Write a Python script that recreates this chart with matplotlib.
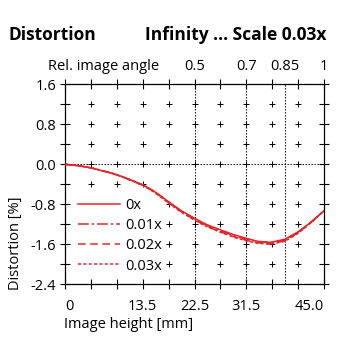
import numpy as np
import matplotlib
matplotlib.use("Agg")
import matplotlib.pyplot as plt
import matplotlib.transforms as mtransforms

plt.rcParams['font.family'] = ['Open Sans', 'DejaVu Sans']

# Data
image_height = [0, 2.5, 4.7, 6.5, 8.2, 10, 11.6, 13.5, 15.1, 16.5, 18, 20.1, 22.5,
                24.7, 27, 29.4, 31.5, 33.5, 35.7, 38.2, 40.5, 42.6, 45]
dist_0x   = [0, -0.03, -0.075, -0.13, -0.18, -0.25, -0.32, -0.41, -0.51, -0.62, -0.75, -0.92, -1.08,
             -1.21, -1.31, -1.41, -1.48, -1.54, -1.56, -1.50, -1.35, -1.17, -0.93]
dist_001x = [0, -0.03, -0.075, -0.13, -0.18, -0.25, -0.32, -0.41, -0.52, -0.63, -0.76, -0.93, -1.09,
             -1.22, -1.33, -1.43, -1.50, -1.55, -1.57, -1.51, -1.36, -1.17, -0.93]
dist_002x = [0, -0.03, -0.075, -0.13, -0.18, -0.25, -0.33, -0.42, -0.52, -0.63, -0.77, -0.94, -1.11,
             -1.24, -1.35, -1.45, -1.52, -1.57, -1.59, -1.53, -1.37, -1.18, -0.93]
dist_003x = [0, -0.03, -0.075, -0.13, -0.18, -0.25, -0.33, -0.42, -0.53, -0.64, -0.78, -0.95, -1.12,
             -1.25, -1.36, -1.46, -1.53, -1.58, -1.60, -1.54, -1.38, -1.18, -0.93]
series_labels = ['0x', '0.01x', '0.02x', '0.03x']
x_ticklabels = {0: '0', 13.5: '13.5', 22.5: '22.5', 31.5: '31.5', 45: '45.0'}
y_ticklabels = [1.6, 0.8, 0.0, -0.8, -1.6, -2.4]
rel_angle_pos = [22.5, 31.5, 38.25, 45]
rel_angle_labels = ['0.5', '0.7', '0.85', '1']

red = '#e3262d'
fs = 10.5
fig = plt.figure(figsize=(3.4, 3.4), dpi=100)
ax = fig.add_axes([65/340, 1-284.3/340, (324-65)/340, 200/340])

styles = ['-', (0, (7, 2, 1.5, 2)), (0, (5, 3)), (0, (2, 1.5))]
for ys, lab, ls in zip([dist_0x, dist_001x, dist_002x, dist_003x], series_labels, styles):
    ax.plot(image_height, ys, color=red, lw=1.1, ls=ls, label=lab, zorder=3)

ax.set_xlim(0, 45)
ax.set_ylim(-2.4, 1.6)

xt = np.arange(0, 45.01, 4.5)
yt = np.round(np.arange(-2.4, 1.61, 0.4), 2)
ax.set_xticks(xt)
ax.set_xticklabels([x_ticklabels.get(round(v, 2), '') for v in xt])
ax.set_yticks(yt)
def ylab(v):
    for t in y_ticklabels:
        if abs(v - t) < 1e-6:
            return '%.1f' % abs(t) if t == 0 else '%.1f' % t
    return ''
ax.set_yticklabels([ylab(v) for v in yt])
ax.tick_params(direction='inout', length=7, width=0.8, top=True, right=True,
               labelsize=fs, pad=3, color='black')
ax.tick_params(axis='x', pad=7)
labs = ax.get_xticklabels()
labs[0].set_ha('left')
labs[-1].set_ha('right')
for sp in ax.spines.values():
    sp.set_linewidth(0.9)

ax.axhline(0, color='black', ls=(0, (1.2, 1.5)), lw=0.8, zorder=2)
for xv in rel_angle_pos[:-1]:
    ax.axvline(xv, color='black', ls=(0, (1.2, 1.5)), lw=0.8, zorder=2)

leg = ax.legend(loc='lower left', bbox_to_anchor=(0.047, 0.05), frameon=True, fontsize=fs,
                handlelength=2.9, handletextpad=0.35, labelspacing=0.35, borderaxespad=0.0,
                borderpad=0.05)
leg.get_frame().set_facecolor('white')
leg.get_frame().set_edgecolor('none')
leg.get_frame().set_alpha(1)
leg.set_zorder(2.5)

# grid crosses (hidden where the legend sits)
fig.canvas.draw()
bb = leg.get_window_extent()
gx, gy = np.meshgrid(xt[1:-1], yt[1:-1])
pts = np.column_stack([gx.ravel(), gy.ravel()])
disp = ax.transData.transform(pts)
keep = ~((disp[:, 0] > bb.x0) & (disp[:, 0] < bb.x1) & (disp[:, 1] > bb.y0) & (disp[:, 1] < bb.y1))
ax.scatter(pts[keep, 0], pts[keep, 1], marker='+', s=22, color='black', linewidths=0.7, zorder=2.7)

# top relative angle labels
trans = mtransforms.blended_transform_factory(ax.transData, fig.transFigure)
for p, l in zip(rel_angle_pos, rel_angle_labels):
    ax.text(p, 1-67/340, l, transform=trans, ha='center', va='center', fontsize=fs)
fig.text(48/340, 1-67/340, 'Rel. image angle', ha='left', va='center', fontsize=fs)

fig.text(8/340, 1-35/340, 'Distortion', ha='left', va='center', fontsize=12.5, fontweight='bold')
fig.text(326/340, 1-35/340, 'Infinity ... Scale 0.03x', ha='right', va='center', fontsize=12.5, fontweight='bold')
fig.text(64/340, 1-325/340, 'Image height [mm]', ha='left', va='center', fontsize=fs)
fig.text(16/340, 1-243/340, 'Distortion [%]', ha='center', va='center', rotation=90, fontsize=fs)

fig.savefig('out.png', dpi=100, facecolor='white')
